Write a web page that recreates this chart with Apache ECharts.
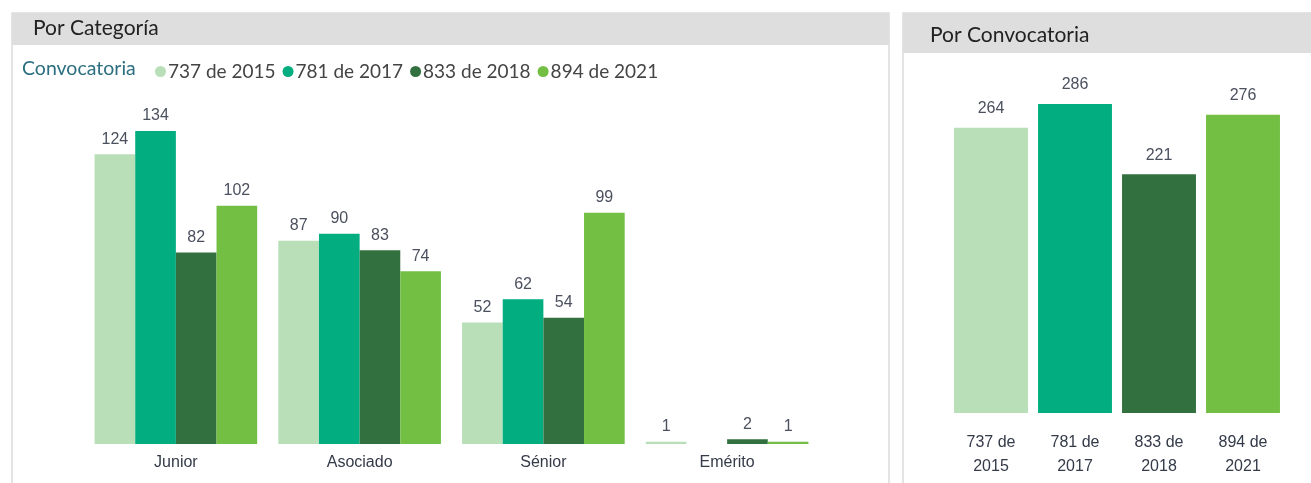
<!DOCTYPE html>
<html><head><meta charset="utf-8">
<style>html,body{margin:0;padding:0;background:#fff}#c{width:1311px;height:483px}</style>
<script src="https://cdn.jsdelivr.net/npm/echarts@6/dist/echarts.min.js"></script>
</head><body><div id="c"></div>
<script>
const categories = ['Junior', 'Asociado', 'Sénior', 'Emérito'];
const seriesNames = ['737 de 2015', '781 de 2017', '833 de 2018', '894 de 2021'];
const v2015 = [124, 87, 52, 1];
const v2017 = [134, 90, 62, null];
const v2018 = [82, 83, 54, 2];
const v2021 = [102, 74, 99, 1];
const totalsLabels = ['737 de\n2015', '781 de\n2017', '833 de\n2018', '894 de\n2021'];
const totals = [264, 286, 221, 276];
const colors = ['#b9dfb9', '#02ae7f', '#33703f', '#72bf44'];

const chart = echarts.init(document.getElementById('c'));
const labelFont = 'Liberation Sans';
const leftVals = [v2015, v2017, v2018, v2021];

const leftSeries = seriesNames.map((n, i) => ({
  name: n, type: 'bar', xAxisIndex: 0, yAxisIndex: 0,
  data: leftVals[i], barGap: '0%', barCategoryGap: '11.5%',
  itemStyle: { color: colors[i] },
  label: { show: true, position: 'top', distance: 7, color: '#4a505e', fontSize: 16, fontFamily: labelFont },
  emphasis: { disabled: true }
}));

const rightSeries = {
  type: 'bar', xAxisIndex: 1, yAxisIndex: 1, barCategoryGap: '12%',
  data: totals.map((v, i) => ({ value: v, itemStyle: { color: colors[i] } })),
  label: { show: true, position: 'top', distance: 11, color: '#4a505e', fontSize: 16, fontFamily: labelFont },
  emphasis: { disabled: true }
};

chart.setOption({
  animation: false,
  graphic: [
    { type: 'rect', shape: { x: 12, y: 13, width: 877, height: 475 }, style: { fill: '#fff', stroke: '#dcdcdc', lineWidth: 1.5 }, z: -10 },
    { type: 'rect', shape: { x: 12, y: 13, width: 877, height: 32 }, style: { fill: '#dedede' }, z: -9 },
    { type: 'text', left: 33, top: 18, style: { text: 'Por Categoría', font: '21px Lato', fill: '#222' } },
    { type: 'text', left: 22, top: 59, style: { text: 'Convocatoria', font: '19.5px Lato', fill: '#2c6f80' } },
    { type: 'rect', shape: { x: 903, y: 13, width: 410, height: 475 }, style: { fill: '#fff', stroke: '#dcdcdc', lineWidth: 1.5 }, z: -10 },
    { type: 'rect', shape: { x: 903, y: 13, width: 410, height: 40 }, style: { fill: '#dedede' }, z: -9 },
    { type: 'text', left: 930, top: 25, style: { text: 'Por Convocatoria', font: '21px Lato', fill: '#222' } }
  ],
  legend: {
    data: seriesNames, left: 150, top: 57, icon: 'circle', itemWidth: 11, itemHeight: 11, itemGap: 7,
    textStyle: { fontFamily: 'Lato', fontSize: 19, color: '#444', padding: [0, 0, 0, -3] }
  },
  grid: [
    { left: 84, top: 131, width: 735, height: 313 },
    { left: 949, top: 104, width: 336, height: 309 }
  ],
  xAxis: [
    { type: 'category', gridIndex: 0, data: categories, axisLine: { show: false }, axisTick: { show: false },
      axisLabel: { margin: 11, color: '#333a48', fontSize: 16, fontFamily: labelFont } },
    { type: 'category', gridIndex: 1, data: totalsLabels, axisLine: { show: false }, axisTick: { show: false },
      axisLabel: { margin: 18, color: '#333a48', fontSize: 16, lineHeight: 24, fontFamily: labelFont } }
  ],
  yAxis: [
    { type: 'value', gridIndex: 0, min: 0, max: 134, show: false },
    { type: 'value', gridIndex: 1, min: 0, max: 286, show: false }
  ],
  series: [...leftSeries, rightSeries]
});
</script></body></html>
